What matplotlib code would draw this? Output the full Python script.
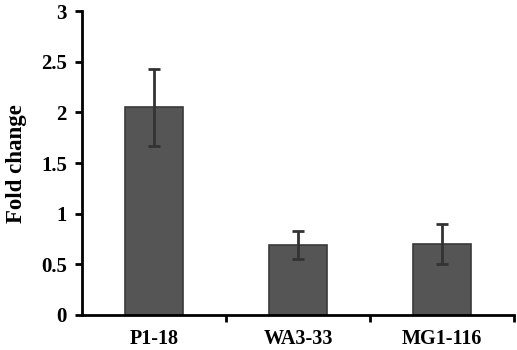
from matplotlib import pyplot as plt
from matplotlib import ticker
import numpy as np

strains = ["P1-18", "WA3-33", "MG1-116"]
fold_change = [2.05, 0.69, 0.70]
errors = [0.38, 0.14, 0.20]

plt.rcParams['font.family'] = ['Liberation Serif', 'DejaVu Serif']
plt.rcParams['font.weight'] = 'bold'

fig = plt.figure(figsize=(5.17, 3.5), dpi=100)
ax = fig.add_axes([0.159, 0.1, 0.835, 0.868])

x = np.arange(len(strains))
ax.bar(x, fold_change, width=0.4, color="#555555", edgecolor="#3a3a3a", linewidth=1.2,
       yerr=errors, error_kw=dict(ecolor="#333333", elinewidth=2, capsize=4, capthick=2))

ax.set_xlim(-0.5, 2.5)
ax.set_ylim(0, 3)
ax.yaxis.set_major_locator(ticker.MultipleLocator(0.5))
ax.yaxis.set_major_formatter(ticker.FuncFormatter(lambda v, p: f"{v:g}"))
ax.set_xticks([0.5, 1.5, 2.5])
ax.set_xticklabels([])
ax.xaxis.set_minor_locator(ticker.FixedLocator(x))
ax.xaxis.set_minor_formatter(ticker.FixedFormatter(strains))
ax.tick_params(axis='x', which='minor', length=0, labelsize=14.5, pad=10)
ax.tick_params(axis='x', which='major', length=5, width=2)
ax.tick_params(axis='y', length=5, width=2, labelsize=15, pad=6)

for s in ['top', 'right']:
    ax.spines[s].set_visible(False)
for s in ['left', 'bottom']:
    ax.spines[s].set_linewidth(2)

ax.set_ylabel("Fold change", fontsize=16.5, fontweight='bold', labelpad=10)

plt.savefig("out.png", dpi=100)
